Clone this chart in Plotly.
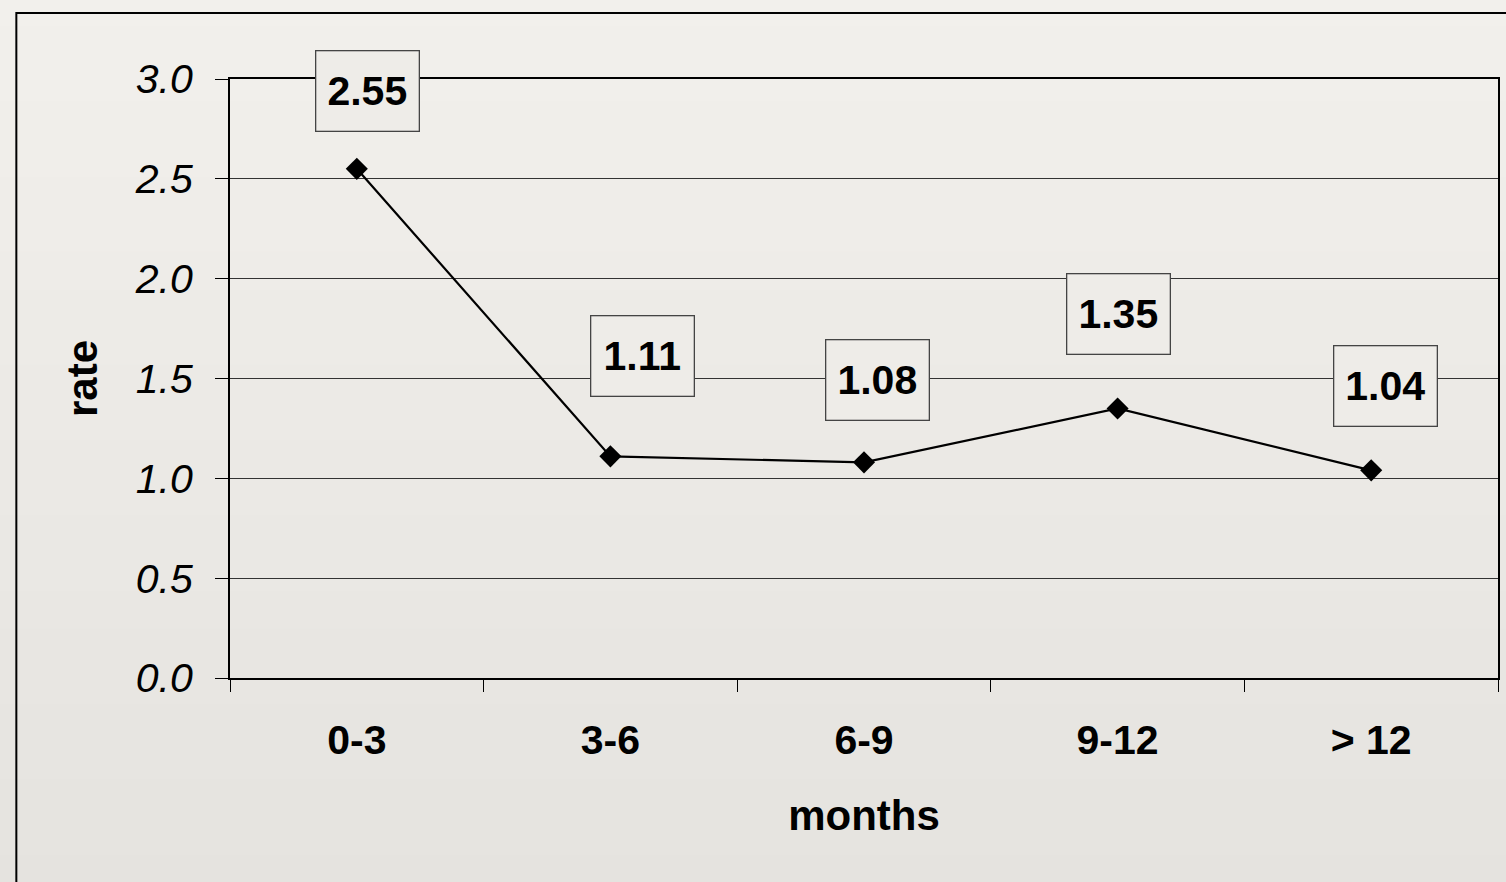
import plotly.graph_objects as go

# Rate by time since start, grouped in month bands
months = ["0-3", "3-6", "6-9", "9-12", "> 12"]
rate = [2.55, 1.11, 1.08, 1.35, 1.04]
value_labels = ["2.55", "1.11", "1.08", "1.35", "1.04"]
y_ticks = [0.0, 0.5, 1.0, 1.5, 2.0, 2.5, 3.0]
y_tick_text = ["0.0", "0.5", "1.0", "1.5", "2.0", "2.5", "3.0"]

# pixel offsets of each value box from its point
label_dx = [11, 32, 13, 1, 14]
label_dy = [78, 100, 82, 94, 84]

FONT = "Liberation Sans, Arial, sans-serif"
BG_TOP = (242, 240, 236)
BG_BOTTOM = (229, 227, 223)

fig = go.Figure()

fig.add_trace(go.Scatter(
    x=months,
    y=rate,
    mode="lines+markers",
    line=dict(color="black", width=2.2),
    marker=dict(symbol="diamond", size=17, color="black"),
    showlegend=False,
    hoverinfo="x+y",
))

# soft vertical shading of the page background
bands = 24
shapes = []
for i in range(bands):
    t = i / (bands - 1)
    c = tuple(round(BG_TOP[k] + (BG_BOTTOM[k] - BG_TOP[k]) * t) for k in range(3))
    y_hi = 1.15 - (1.15 + 0.36) * i / bands
    y_lo = 1.15 - (1.15 + 0.36) * (i + 1) / bands
    shapes.append(dict(
        type="rect", xref="paper", yref="paper",
        x0=-0.2, x1=1.05, y0=y_lo - 0.002, y1=y_hi + 0.002,
        fillcolor="rgb(%d,%d,%d)" % c, line=dict(width=0), layer="below",
    ))

# outer frame around the chart
shapes.append(dict(
    type="rect", xref="paper", yref="paper",
    x0=-0.1685, x1=1.1, y0=-0.6, y1=1.11,
    line=dict(color="black", width=2), fillcolor="rgba(0,0,0,0)", layer="below",
))

annotations = []
for m, v, txt, dx, dy in zip(months, rate, value_labels, label_dx, label_dy):
    annotations.append(dict(
        x=m, y=v, xref="x", yref="y",
        text=txt, showarrow=False,
        xshift=dx, yshift=dy,
        font=dict(family=FONT, size=41, color="black", weight="bold"),
        bgcolor="rgb(238,236,232)",
        bordercolor="#444444", borderwidth=1.3, borderpad=1,
        width=100, height=77,
    ))

fig.update_layout(
    width=1506, height=882,
    margin=dict(l=230, r=6, t=79, b=204),
    paper_bgcolor="rgb(236,234,230)",
    plot_bgcolor="rgba(0,0,0,0)",
    shapes=shapes,
    annotations=annotations,
    font=dict(family=FONT, color="black"),
    xaxis=dict(
        type="category",
        range=[-0.5, 4.5],
        tickson="boundaries",
        ticks="outside", ticklen=12, tickwidth=1.2, tickcolor="black",
        showline=True, linecolor="black", linewidth=2, mirror=True,
        showgrid=False, zeroline=False,
        tickfont=dict(family=FONT, size=41, weight="bold", color="black"),
        ticklabelstandoff=25,
        title=dict(text="months", standoff=38,
                   font=dict(family=FONT, size=42, weight="bold", color="black")),
    ),
    yaxis=dict(
        range=[0, 3],
        tickvals=y_ticks, ticktext=y_tick_text,
        ticks="outside", ticklen=13, tickwidth=1.2, tickcolor="black",
        showline=True, linecolor="black", linewidth=2, mirror=True,
        showgrid=True, gridcolor="#333333", gridwidth=1,
        zeroline=False,
        tickfont=dict(family=FONT, size=41, style="italic", color="black"),
        ticklabelstandoff=14,
        title=dict(text="rate", standoff=24,
                   font=dict(family=FONT, size=42, weight="bold", color="black")),
    ),
)

fig.write_html("out.html")
